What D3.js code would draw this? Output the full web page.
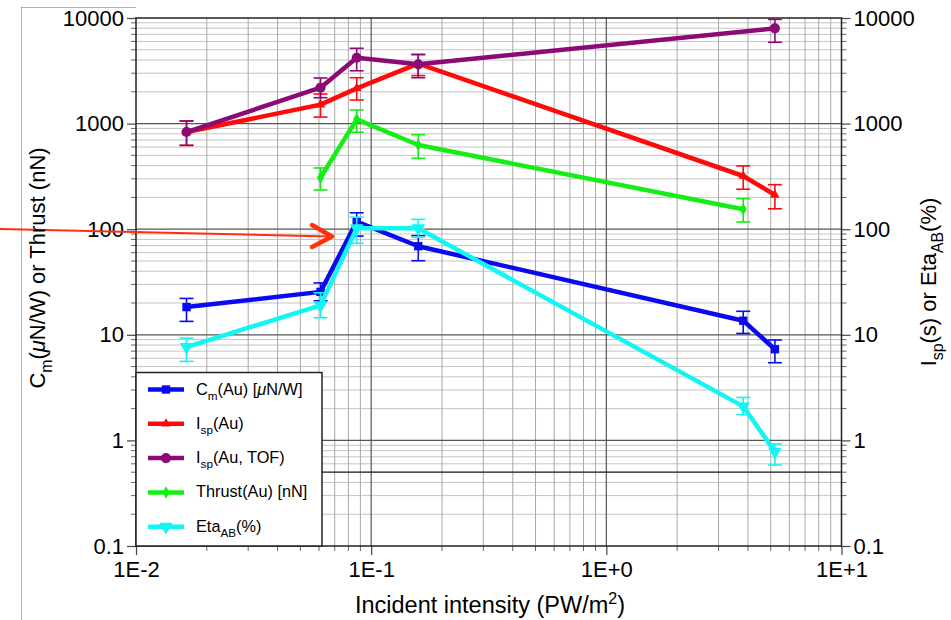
<!DOCTYPE html>
<html>
<head>
<meta charset="utf-8">
<script src="https://cdn.jsdelivr.net/npm/d3@7"></script>
<style>
  body { margin: 0; background: #fff; }
  svg { display: block; }
  text { font-family: "Liberation Sans", Arial, Helvetica, sans-serif; fill: #000; }
</style>
</head>
<body>
<svg id="chart" width="951" height="620"></svg>
<script>
// Incident intensity (PW/m^2) of each measurement
const intensity = [0.0164, 0.0609, 0.0868, 0.1586, 3.82, 5.21];

// C_m (Au) [uN/W]
const cmValues = [18.3, 25.5, 118, 69, 13.6, 7.3];
const cmLow    = [13.4, 21, 86, 50.3, 10.3, 5.44];
const cmHigh   = [22.1, 31, 143, 87, 16.7, 8.93];

// I_sp (Au) [s]
const ispValues = [832, 1512, 2158, 3700, 319, 211];
const ispLow    = [622, 1153, 1671, 2850, 239, 156];
const ispHigh   = [1059, 1906, 2720, 4500, 397, 264];

// I_sp (Au, TOF) [s]
const ispTofValues = [832, 2188, 4207, 3641, null, 7980];
const ispTofLow    = [622, 1759, 3164, 2720, null, 5890];
const ispTofHigh   = [1059, 2703, 5164, 4523, null, 9700];

// Thrust (Au) [nN]
const thrustValues = [null, 309, 1097, 627, 154.5, null];
const thrustLow    = [null, 235, 828, 469, 117, null];
const thrustHigh   = [null, 380, 1346, 785, 194.5, null];

// Eta_AB (%)
const etaValues = [7.66, 19, 102, 102, 2.1, 0.78];
const etaLow    = [5.6, 14.5, 73.5, 84, 1.75, 0.585];
const etaHigh   = [9.3, 25, 130, 124, 2.55, 0.925];

const xTickValues = [0.01, 0.1, 1, 10];
const xTickLabels = ["1E-2", "1E-1", "1E+0", "1E+1"];
const yTickValues = [0.1, 1, 10, 100, 1000, 10000];
const yTickLabels = ["0.1", "1", "10", "100", "1000", "10000"];
const refLineValue = 0.5;

const series = [
  { key: "cm",     values: cmValues,     low: cmLow,     high: cmHigh,     color: "#0a0af0", symbol: d3.symbolSquare,   size: 70, rotate: 0 },
  { key: "isp",    values: ispValues,    low: ispLow,    high: ispHigh,    color: "#ff0a0a", symbol: d3.symbolTriangle, size: 40, rotate: 0 },
  { key: "ispTof", values: ispTofValues, low: ispTofLow, high: ispTofHigh, color: "#8c0a74", symbol: d3.symbolCircle,   size: 80, rotate: 0 },
  { key: "thrust", values: thrustValues, low: thrustLow, high: thrustHigh, color: "#14ee14", symbol: d3.symbolDiamond,  size: 45, rotate: 0 },
  { key: "eta",    values: etaValues,    low: etaLow,    high: etaHigh,    color: "#12f5f5", symbol: d3.symbolTriangle, size: 80, rotate: 180 }
];

const plot = { left: 136, right: 841.5, top: 18, bottom: 546 };
const svg = d3.select("#chart");

const x = d3.scaleLog().domain([0.01, 10]).range([plot.left, plot.right]);
const y = d3.scaleLog().domain([0.1, 10000]).range([plot.bottom, plot.top]);

// dotted page frame
const frame = svg.append("g").attr("stroke", "#666").attr("stroke-width", 1).attr("stroke-dasharray", "1,1");
frame.append("line").attr("x1", 21.5).attr("x2", 21.5).attr("y1", 7.5).attr("y2", 620);
frame.append("line").attr("x1", 21.5).attr("x2", 136).attr("y1", 7.5).attr("y2", 7.5);

// grid
const grid = svg.append("g");
const xMinor = [], yMinor = [];
for (let e = -2; e < 1; e++) for (let m = 2; m <= 9; m++) xMinor.push(m * Math.pow(10, e));
for (let e = -1; e < 4; e++) for (let m = 2; m <= 9; m++) yMinor.push(m * Math.pow(10, e));

grid.selectAll(".hminor").data(yMinor).join("line")
  .attr("x1", plot.left).attr("x2", plot.right)
  .attr("y1", d => y(d)).attr("y2", d => y(d))
  .attr("stroke", "#c4c4c4").attr("stroke-width", 1);
grid.selectAll(".vminor").data(xMinor).join("line")
  .attr("y1", plot.top).attr("y2", plot.bottom)
  .attr("x1", d => x(d)).attr("x2", d => x(d))
  .attr("stroke", "#a8a8a8").attr("stroke-width", 1);
grid.selectAll(".hmajor").data(yTickValues.slice(1, -1)).join("line")
  .attr("x1", plot.left).attr("x2", plot.right)
  .attr("y1", d => y(d)).attr("y2", d => y(d))
  .attr("stroke", "#555").attr("stroke-width", 1.2);
grid.selectAll(".vmajor").data(xTickValues.slice(1, -1)).join("line")
  .attr("y1", plot.top).attr("y2", plot.bottom)
  .attr("x1", d => x(d)).attr("x2", d => x(d))
  .attr("stroke", "#555").attr("stroke-width", 1.2);

// reference line
svg.append("line")
  .attr("x1", plot.left).attr("x2", plot.right)
  .attr("y1", y(refLineValue)).attr("y2", y(refLineValue))
  .attr("stroke", "#222").attr("stroke-width", 1.2);

// axes
const axisLeft = d3.axisLeft(y).tickValues(yTickValues).tickFormat((d, i) => yTickLabels[i]).tickSize(9).tickPadding(3);
const axisRight = d3.axisRight(y).tickValues(yTickValues).tickFormat((d, i) => yTickLabels[i]).tickSize(9).tickPadding(3);
const axisBottom = d3.axisBottom(x).tickValues(xTickValues).tickFormat((d, i) => xTickLabels[i]).tickSize(9).tickPadding(6);

function styleAxis(g) {
  g.select(".domain").remove();
  g.selectAll(".tick line").attr("stroke", "#444").attr("stroke-width", 1.2);
  g.selectAll(".tick text").attr("font-size", 22).attr("font-family", "Liberation Sans, Arial, sans-serif").attr("fill", "#000");
}
svg.append("g").attr("transform", `translate(${plot.left},0)`).call(axisLeft).call(styleAxis);
svg.append("g").attr("transform", `translate(${plot.right},0)`).call(axisRight).call(styleAxis);
svg.append("g").attr("transform", `translate(0,${plot.bottom})`).call(axisBottom).call(styleAxis);

// minor ticks
const minor = svg.append("g").attr("stroke", "#666").attr("stroke-width", 1);
minor.selectAll(".ml").data(yMinor).join("line")
  .attr("x1", plot.left - 5).attr("x2", plot.left).attr("y1", d => y(d)).attr("y2", d => y(d));
minor.selectAll(".mr").data(yMinor).join("line")
  .attr("x1", plot.right).attr("x2", plot.right + 5).attr("y1", d => y(d)).attr("y2", d => y(d));
minor.selectAll(".mb").data(xMinor).join("line")
  .attr("y1", plot.bottom).attr("y2", plot.bottom + 5).attr("x1", d => x(d)).attr("x2", d => x(d));

// plot frame
svg.append("rect")
  .attr("x", plot.left).attr("y", plot.top)
  .attr("width", plot.right - plot.left).attr("height", plot.bottom - plot.top)
  .attr("fill", "none").attr("stroke", "#222").attr("stroke-width", 1.5);

// series
const line = d3.line().x(d => x(d.x)).y(d => y(d.v));
series.forEach(s => {
  const pts = intensity.map((xv, i) => ({ x: xv, v: s.values[i], lo: s.low[i], hi: s.high[i] }))
    .filter(d => d.v != null);
  const g = svg.append("g");
  // error bars
  const eb = g.selectAll(".eb").data(pts).join("g").attr("stroke", s.color).attr("stroke-width", 1.6);
  eb.append("line").attr("x1", d => x(d.x)).attr("x2", d => x(d.x)).attr("y1", d => y(d.lo)).attr("y2", d => y(d.hi));
  eb.append("line").attr("x1", d => x(d.x) - 7).attr("x2", d => x(d.x) + 7).attr("y1", d => y(d.lo)).attr("y2", d => y(d.lo));
  eb.append("line").attr("x1", d => x(d.x) - 7).attr("x2", d => x(d.x) + 7).attr("y1", d => y(d.hi)).attr("y2", d => y(d.hi));
  // line
  g.append("path").datum(pts).attr("d", line)
    .attr("fill", "none").attr("stroke", s.color).attr("stroke-width", 4.5).attr("stroke-linejoin", "round");
  // markers
  g.selectAll(".mk").data(pts).join("path")
    .attr("d", d3.symbol().type(s.symbol).size(s.size))
    .attr("transform", d => `translate(${x(d.x)},${y(d.v)}) rotate(${s.rotate})`)
    .attr("fill", s.color);
});

// red arrow pointing at the peak
const arrowColor = "#ff3010";
svg.append("line").attr("x1", 0).attr("y1", 229).attr("x2", 330).attr("y2", 236.5)
  .attr("stroke", arrowColor).attr("stroke-width", 2);
svg.append("path").attr("d", "M312,225 L332,236.5 L312,247")
  .attr("fill", "none").attr("stroke", arrowColor).attr("stroke-width", 4.5)
  .attr("stroke-linecap", "round").attr("stroke-linejoin", "round");

// legend
const legend = svg.append("g");
legend.append("rect").attr("x", 136).attr("y", 372.5).attr("width", 186).attr("height", 173.5)
  .attr("fill", "#fff").attr("stroke", "#222").attr("stroke-width", 1.5);
const legendRows = [
  { parts: [["C", 0], ["m", 1], ["(Au) [", 0], ["μ", 2], ["N/W]", 0]] },
  { parts: [["I", 0], ["sp", 1], ["(Au)", 0]] },
  { parts: [["I", 0], ["sp", 1], ["(Au, TOF)", 0]] },
  { parts: [["Thrust(Au) [nN]", 0]] },
  { parts: [["Eta", 0], ["AB", 1], ["(%)", 0]] }
];
function addRich(textSel, parts, size) {
  let shifted = false;
  parts.forEach(([t, kind]) => {
    const ts = textSel.append("tspan").text(t);
    if (kind === 1) {
      ts.attr("font-size", size * 0.72).attr("dy", shifted ? 0 : size * 0.32);
      shifted = true;
    } else {
      ts.attr("font-size", size);
      if (shifted) { ts.attr("dy", -size * 0.32); shifted = false; }
      if (kind === 2) ts.attr("font-style", "italic");
    }
  });
}
legendRows.forEach((row, i) => {
  const s = series[i];
  const cy = 389.5 + i * 34.3;
  legend.append("line").attr("x1", 148).attr("x2", 184).attr("y1", cy).attr("y2", cy)
    .attr("stroke", s.color).attr("stroke-width", 4.5);
  legend.append("path").attr("d", d3.symbol().type(s.symbol).size(s.size))
    .attr("transform", `translate(166,${cy}) rotate(${s.rotate})`).attr("fill", s.color);
  const t = legend.append("text").attr("x", 196).attr("y", cy + 5);
  addRich(t, row.parts, 16.3);
});

// axis titles
const xTitle = svg.append("text").attr("x", 490).attr("y", 613).attr("text-anchor", "middle").attr("font-size", 23.5);
xTitle.append("tspan").text("Incident intensity (PW/m");
xTitle.append("tspan").text("2").attr("font-size", 16).attr("dy", -9);
xTitle.append("tspan").text(")").attr("dy", 9);

const yTitle = svg.append("text").attr("transform", "translate(45,268) rotate(-90)").attr("text-anchor", "middle");
addRich(yTitle, [["C", 0], ["m", 1], ["(", 0], ["μ", 2], ["N/W) or Thrust (nN)", 0]], 22);

const y2Title = svg.append("text").attr("transform", "translate(936,282) rotate(-90)").attr("text-anchor", "middle");
addRich(y2Title, [["I", 0], ["sp", 1], ["(s) or Eta", 0], ["AB", 1], ["(%)", 0]], 22);
</script>
</body>
</html>
